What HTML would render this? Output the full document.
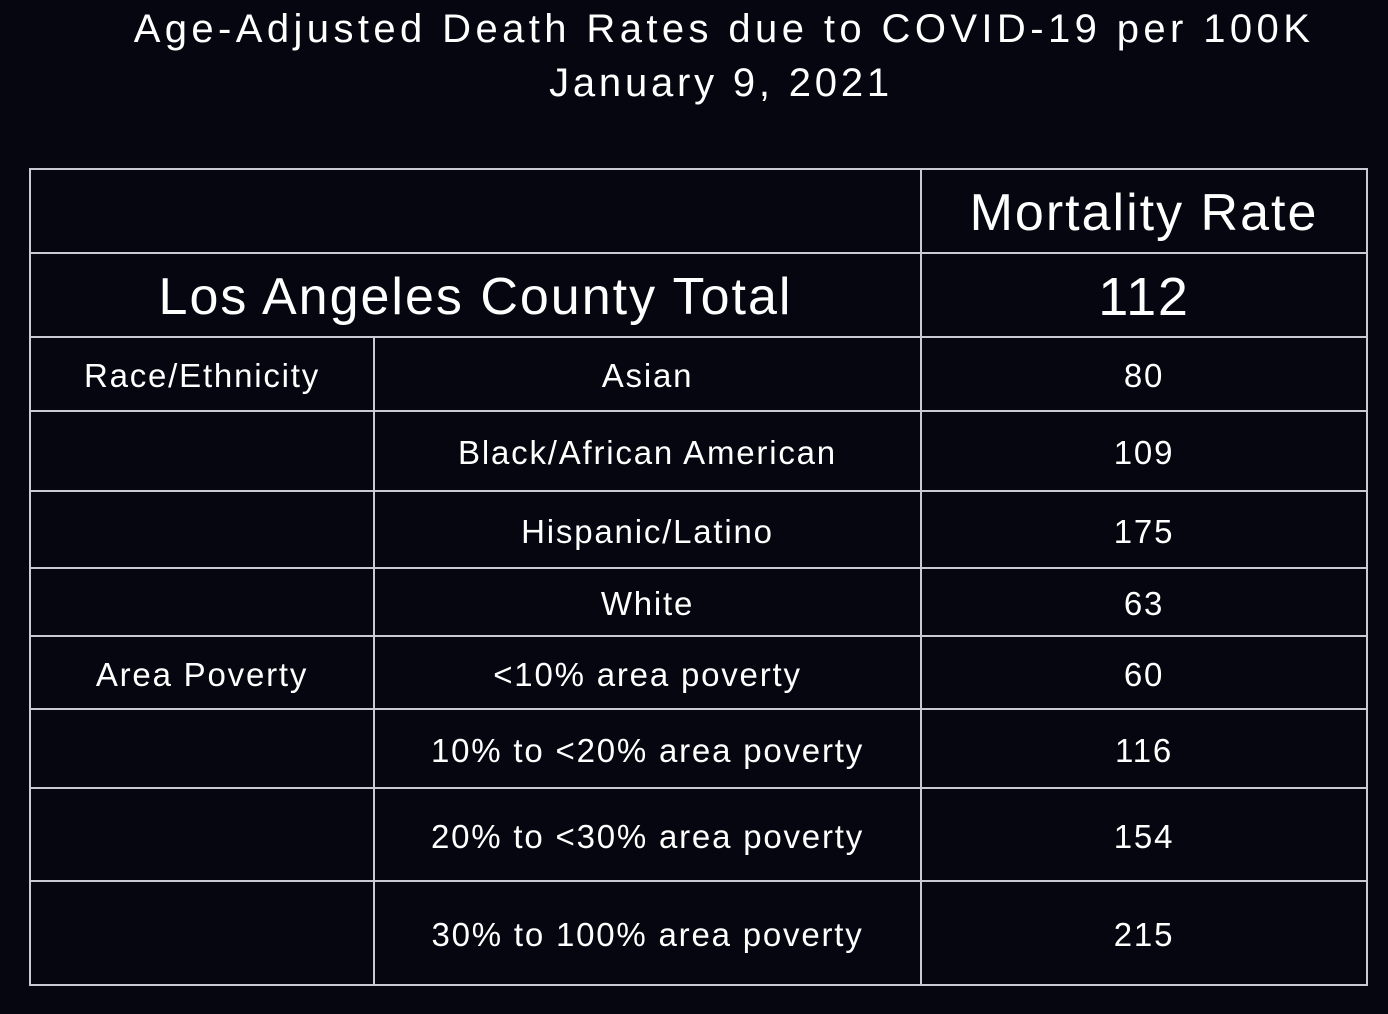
<!DOCTYPE html>
<html><head><meta charset="utf-8"><style>
html,body{margin:0;padding:0;background:#05060f;}
body{width:1388px;height:1014px;position:relative;overflow:hidden;font-family:"Liberation Sans",sans-serif;color:#fff;}
.title{position:absolute;left:0;width:1448px;text-align:center;font-size:40px;letter-spacing:4.4px;}
table{position:absolute;left:29px;top:168px;border-collapse:collapse;}
td{border:2px solid #c9cbd2;text-align:center;padding:4px 0 0 0;font-size:33px;letter-spacing:1.8px;}
</style></head><body>
<div class="title" style="top:7px">Age-Adjusted Death Rates due to COVID-19 per 100K</div>
<div class="title" style="top:61px;width:1442px;letter-spacing:3.8px">January 9, 2021</div>
<table>
<colgroup><col style="width:344px"><col style="width:547px"><col style="width:446px"></colgroup>
<tr style="height:84px"><td colspan="2"></td><td style="font-size:52px;letter-spacing:2px">Mortality Rate</td></tr>
<tr style="height:84px"><td colspan="2" style="font-size:52px;letter-spacing:2px">Los Angeles County Total</td><td style="font-size:54px">112</td></tr>
<tr style="height:74px"><td>Race/Ethnicity</td><td>Asian</td><td>80</td></tr>
<tr style="height:80px"><td></td><td>Black/African American</td><td>109</td></tr>
<tr style="height:77px"><td></td><td>Hispanic/Latino</td><td>175</td></tr>
<tr style="height:68px"><td></td><td>White</td><td>63</td></tr>
<tr style="height:73px"><td>Area Poverty</td><td>&lt;10% area poverty</td><td>60</td></tr>
<tr style="height:79px"><td></td><td>10% to &lt;20% area poverty</td><td>116</td></tr>
<tr style="height:93px"><td></td><td>20% to &lt;30% area poverty</td><td>154</td></tr>
<tr style="height:104px"><td></td><td>30% to 100% area poverty</td><td>215</td></tr>
</table>
</body></html>
